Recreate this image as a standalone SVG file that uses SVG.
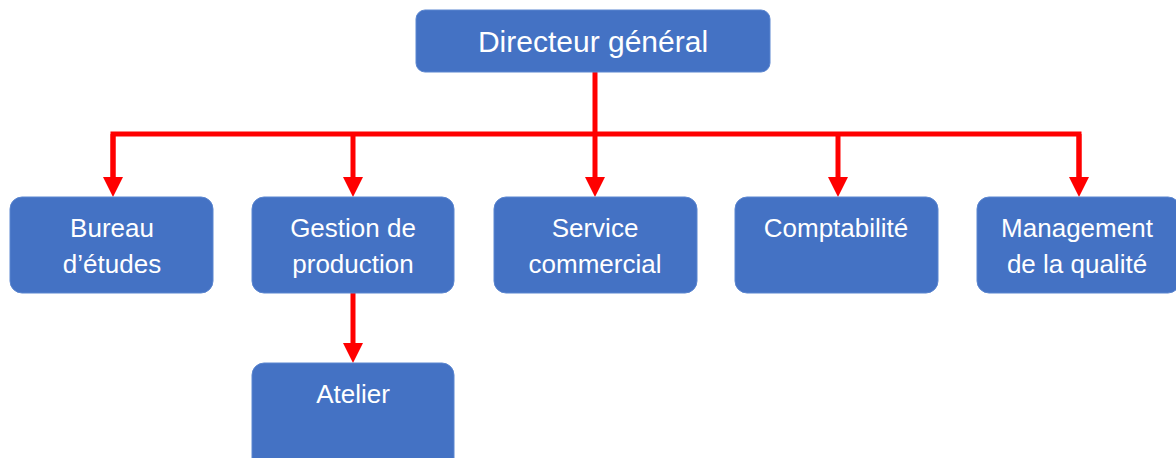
<svg xmlns="http://www.w3.org/2000/svg" width="1176" height="458" viewBox="0 0 1176 458">
  <style>
    .box { fill: #4472C4; stroke: #5B86D0; stroke-width: 1; }
    .lbl { fill: #FFFFFF; font-family: "Liberation Sans", Arial, sans-serif; font-size: 26px; text-anchor: middle; }
    .top { font-size: 30px; }
    .con { fill: none; stroke: #FF0000; stroke-width: 5; }
  </style>
  <defs>
    <marker id="arr" markerUnits="userSpaceOnUse" markerWidth="20" markerHeight="20" refX="0" refY="10" orient="auto">
      <path d="M0,0 L20,10 L0,20 z" fill="#FF0000"/>
    </marker>
  </defs>
  <rect width="1176" height="458" fill="#FFFFFF"/>
  <g id="connectors">
    <path class="con" d="M595,72 V177" marker-end="url(#arr)"/>
    <path class="con" d="M113,177 V134 H1079 V177" />
    <path class="con" d="M113,134 V177" marker-end="url(#arr)"/>
    <path class="con" d="M353,134 V177" marker-end="url(#arr)"/>
    <path class="con" d="M838,134 V177" marker-end="url(#arr)"/>
    <path class="con" d="M1079,134 V177" marker-end="url(#arr)"/>
    <path class="con" d="M353,293 V343" marker-end="url(#arr)"/>
  </g>
  <g id="directeur">
    <rect class="box" x="416" y="10" width="354" height="62" rx="9"/>
    <text class="lbl top" x="593" y="52">Directeur général</text>
  </g>
  <g id="bureau">
    <rect class="box" x="10" y="197" width="203" height="96" rx="12"/>
    <text class="lbl" x="112" y="237">Bureau</text>
    <text class="lbl" x="112" y="273">d’études</text>
  </g>
  <g id="gestion">
    <rect class="box" x="252" y="197" width="202" height="96" rx="12"/>
    <text class="lbl" x="353" y="237">Gestion de</text>
    <text class="lbl" x="353" y="273">production</text>
  </g>
  <g id="service">
    <rect class="box" x="494" y="197" width="203" height="96" rx="12"/>
    <text class="lbl" x="595" y="237">Service</text>
    <text class="lbl" x="595" y="273">commercial</text>
  </g>
  <g id="comptabilite">
    <rect class="box" x="735" y="197" width="203" height="96" rx="12"/>
    <text class="lbl" x="836" y="237">Comptabilité</text>
  </g>
  <g id="management">
    <rect class="box" x="977" y="197" width="203" height="96" rx="12"/>
    <text class="lbl" x="1077" y="237">Management</text>
    <text class="lbl" x="1077" y="273">de la qualité</text>
  </g>
  <g id="atelier">
    <rect class="box" x="252" y="363" width="202" height="110" rx="12"/>
    <text class="lbl" x="353" y="403">Atelier</text>
  </g>
</svg>
